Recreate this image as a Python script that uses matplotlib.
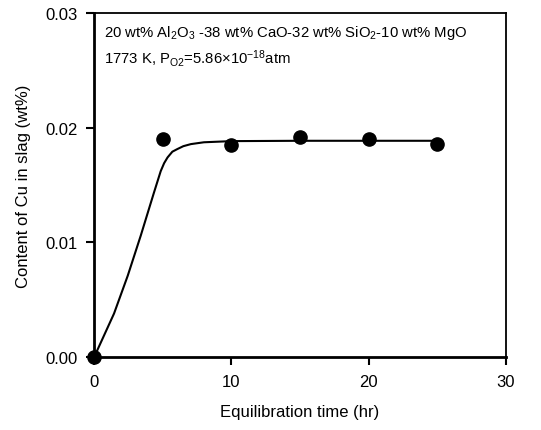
import matplotlib
matplotlib.use('Agg')
import matplotlib.pyplot as plt

plt.rcParams['font.family'] = ['Liberation Sans', 'DejaVu Sans']
plt.rcParams['mathtext.fontset'] = 'custom'
plt.rcParams['mathtext.rm'] = 'Liberation Sans'
plt.rcParams['mathtext.it'] = 'Liberation Sans'

# measured data
time_hr = [0, 5, 10, 15, 20, 25]
cu_wt = [0.0, 0.0190, 0.0185, 0.0192, 0.0190, 0.0186]

# fitted curve
curve_t = [0, 1.45, 2.45, 3.4, 4.35, 4.85, 5.1, 5.35, 5.7, 6.05, 6.5, 7.05, 8.0, 10, 15, 20, 25]
curve_y = [0.0, 0.0038, 0.0071, 0.0106, 0.0143, 0.0162, 0.0169, 0.0174, 0.0179,
           0.01812, 0.01838, 0.01856, 0.01872, 0.01882, 0.01885, 0.01885, 0.01885]

fig = plt.figure(figsize=(5.41, 4.31), dpi=100)
ax = fig.add_axes([0.174, 0.169, 0.761, 0.799])

ax.plot(curve_t, curve_y, color='black', linewidth=1.5)
ax.plot(time_hr, cu_wt, 'o', color='black', markersize=9.5, clip_on=False, zorder=3)

ax.set_xlim(0, 30)
ax.set_ylim(0, 0.03)
ax.set_xticks([0, 10, 20, 30])
ax.set_yticks([0.00, 0.01, 0.02, 0.03])
ax.set_yticklabels(['0.00', '0.01', '0.02', '0.03'])
ax.tick_params(direction='out', length=6, width=1.5, labelsize=12, pad=6)

for side in ['left', 'bottom']:
    ax.spines[side].set_linewidth(2)
for side in ['top', 'right']:
    ax.spines[side].set_linewidth(1.3)

ax.set_xlabel('Equilibration time (hr)', fontsize=12, labelpad=11)
ax.set_ylabel('Content of Cu in slag (wt%)', fontsize=12, labelpad=10)

ax.text(0.025, 0.97, r'20 wt% Al$_2$O$_3$ -38 wt% CaO-32 wt% SiO$_2$-10 wt% MgO',
        transform=ax.transAxes, fontsize=10.7, va='top')
ax.text(0.025, 0.90, r'1773 K, P$_{O2}$=5.86×10$^{-18}$atm',
        transform=ax.transAxes, fontsize=10.7, va='top')

fig.savefig('out.png', dpi=100)
